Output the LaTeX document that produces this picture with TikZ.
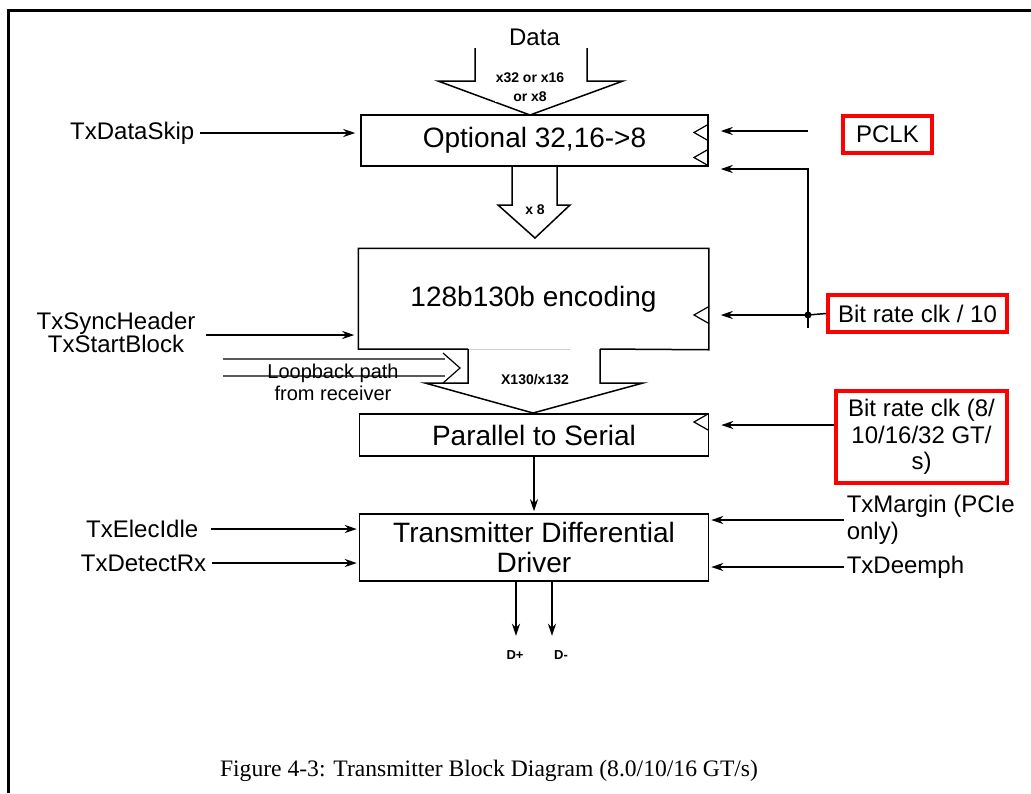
\documentclass[tikz,border=0pt]{standalone}
\usepackage{fontspec}
\setmainfont{Liberation Sans}
\newfontfamily\captionserif{Liberation Serif}
\usetikzlibrary{arrows.meta}
\definecolor{tag_red}{RGB}{255,0,0}
\definecolor{fade_gray}{RGB}{205,205,205}
\definecolor{loop_gray}{RGB}{90,90,90}

\begin{document}
\begin{tikzpicture}[x=1pt,y=-1pt,line width=1.5pt,>={Stealth[length=12pt,width=8pt]}]
    \tikzstyle{blk}=[draw, minimum width=349pt, inner sep=0pt, align=center, font=\fontsize{28}{30}\selectfont]
    \tikzstyle{sig}=[inner sep=0pt, font=\fontsize{24}{27}\selectfont]
    \tikzstyle{tag}=[sig, draw=tag_red, line width=4pt, align=center]
    \tikzstyle{bus}=[inner sep=1pt, align=center, font=\bfseries\fontsize{14}{19}\selectfont]
    \tikzstyle{clk}=[->, shorten >=12pt]

    \useasboundingbox (0,0) rectangle (1031,793);
    \draw[line width=3pt] (8,793) -- (8,10) -- (1031,10);

    % blocks
    \node[blk, minimum width=347pt, minimum height=51pt] (opt) at (534.5,140.5) {Optional 32,16->8};
    \node[blk, draw=none, minimum height=100pt] (enc) at (533.5,299) {128b130b encoding};
    \node[blk, minimum height=42pt] (p2s) at (534,435) {Parallel to Serial};
    \node[blk, minimum height=67pt] (drv) at (534,547.5) {Transmitter Differential\\Driver};
    \draw (468,349) -| (enc.north west) -| (enc.south east) -- (600,349);
    \draw[fade_gray, line width=1pt] (468,349) -- (570,349);

    % clock marks
    \foreach \y in {132.5,157.5,315,422}
      \draw[line width=1.2pt] (708,\y-8) -- (694,\y) -- (708,\y+8);

    % wide bus arrows
    \draw (475,48) |- (438,81) -- (530,115) -- (623,81) -| (587,48);
    \draw (512,166) |- (498,205) -- (535,238) -- (570,205) -| (557,166);
    \draw (468,349) |- (425,383) -- (533,413) -- (643,383) -| (600,349);
    \draw[loop_gray, line width=1.2pt] (223,359) -- (445,359) (223,376) -- (445,376);
    \draw[line width=1.2pt] (443,353) -- (460,368) -- (443,383);

    \node[sig] (data) at (534.5,37) {Data};
    \node[bus, fill=white] (bus_in) at (530,87) {x32 or x16\\or x8};
    \node[bus] (bus_mid) at (535,210) {x 8};
    \node[bus] (bus_out) at (535,380) {X130/x132};
    \node[inner sep=0pt, align=center, font=\fontsize{20}{22}\selectfont] (loop) at (333,382) {Loopback path\\from receiver};

    % signals left
    \node[sig, anchor=east] (skip) at (195,133) {TxDataSkip};
    \node[sig, align=center, font=\fontsize{24}{23}\selectfont] (sync) at (116,332) {TxSyncHeader\\TxStartBlock};
    \node[sig, anchor=east] (elec) at (199,529) {TxElecIdle};
    \node[sig, anchor=east] (detect) at (207,563) {TxDetectRx};

    % signals right
    \node[tag, minimum width=89pt, minimum height=37pt] (pclk) at (887.5,134.5) {PCLK};
    \node[tag, minimum width=179pt, minimum height=37pt] (bit10) at (917.5,313.5) {Bit rate clk / 10};
    \node[tag, minimum width=171pt, minimum height=92pt, font=\fontsize{24}{26.5}\selectfont] (bitclk) at (921.5,437) {Bit rate clk (8/\\10/16/32 GT/\\s)};
    \node[sig, anchor=west, align=left] (margin) at (846,520) {TxMargin (PCIe\\only)};
    \node[sig, anchor=west] (deemph) at (846,567) {TxDeemph};

    \node[bus, font=\bfseries\fontsize{13}{15}\selectfont] (dp) at (515,655) {D+};
    \node[bus, font=\bfseries\fontsize{13}{15}\selectfont] (dm) at (561,655) {D-};
    \node[inner sep=0pt, font=\captionserif\fontsize{23.6}{25}\selectfont] (cap) at (489,771) {Figure 4-3: Transmitter Block Diagram (8.0/10/16 GT/s)};

    \coordinate (sync_out) at ([xshift=10pt,yshift=-3pt]sync.east);
    \coordinate (pclk_in) at (808,131);
    \coordinate (tap) at (808,315);
    \coordinate (tap_end) at (808,328);
    \coordinate (bit_in) at ([yshift=12pt]bitclk.west);
    \coordinate (dp_out) at (516,581);
    \coordinate (dm_out) at (552,581);

    \path[->]
     (skip.east) edge[shorten <=5pt, shorten >=5pt] (skip.east -| opt.west)
     (sync_out) edge[shorten >=4pt] (sync_out -| enc.west)
     (elec.east) edge[shorten <=12pt, shorten >=2pt] (elec.east -| drv.west)
     (detect.east) edge[shorten <=5pt, shorten >=2pt] (detect.east -| drv.west)
     (pclk_in) edge[clk] (pclk_in -| opt.east)
     (tap) edge[clk] (tap -| enc.east)
     (bit_in) edge[clk] (bit_in -| p2s.east)
     (margin.west) edge[shorten <=2pt, shorten >=2pt] (margin.west -| drv.east)
     (deemph.west) edge[shorten <=2pt, shorten >=2pt] (deemph.west -| drv.east)
     (p2s.south) edge[shorten >=2pt] (drv.north)
     (dp_out) edge[shorten >=13pt] (dp_out |- dp.north)
     (dm_out) edge[shorten >=13pt] (dm_out |- dm.north)
     ;
    \draw[->, shorten >=12pt] (tap_end) |- ([yshift=-28.5pt]opt.east);
    \draw (tap) -- (bit10.west);
    \fill (tap) circle (3.5pt);
  \end{tikzpicture}
\end{document}
